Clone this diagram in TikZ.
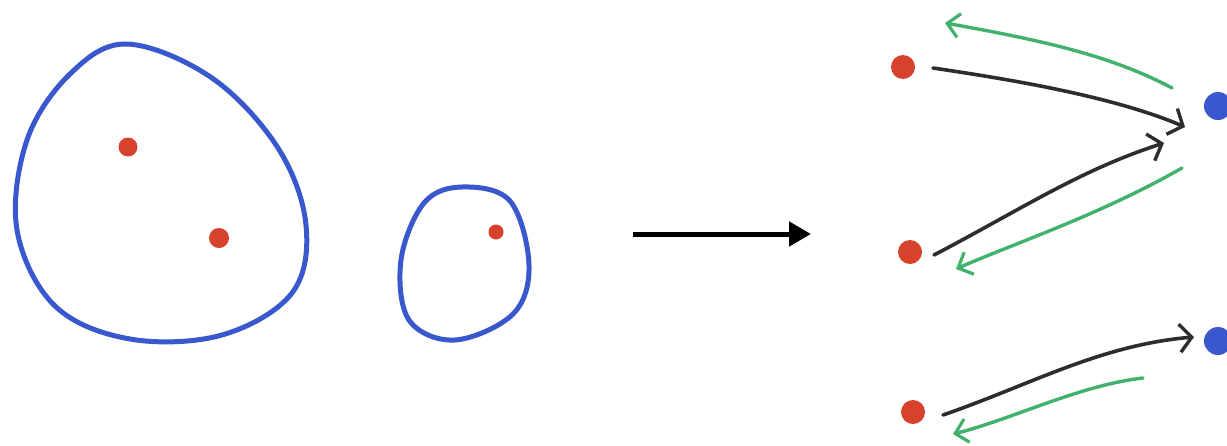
\documentclass[tikz,border=0pt]{standalone}
\usetikzlibrary{arrows.meta,calc}
\definecolor{penblue}{RGB}{58,88,205}
\definecolor{penred}{RGB}{214,66,44}
\definecolor{pengreen}{RGB}{64,178,110}
\definecolor{penblack}{RGB}{45,45,45}
\begin{document}
\begin{tikzpicture}[x=1pt,y=-1pt,
  blob/.style={draw=penblue,line width=5pt,line join=round},
  reddot/.style={circle,fill=penred,inner sep=0pt,minimum size=#1},
  bluedot/.style={circle,fill=penblue,inner sep=0pt,minimum size=#1},
  blackarr/.style={draw=penblack,line width=3.6pt,line cap=round,-{Straight Barb[length=12pt,width=28pt,line width=3.4pt]}},
  greenarr/.style={draw=pengreen,line width=3.4pt,line cap=round,-{Straight Barb[length=12pt,width=24pt,line width=3.2pt]}},
  bigarr/.style={draw=black,line width=5pt,-{Triangle[length=22pt,width=24pt]}}]
\useasboundingbox (0,0) rectangle (1227,445);
% big blob
\draw[blob] plot[smooth cycle,tension=0.6] coordinates{
 (127,44) (212,78) (278,148) (306,225) (292,293) (222,335) (130,339)
 (55,306) (17,230) (27,140) (70,74)};
\node[reddot=19pt] (r1) at (128,147) {};
\node[reddot=20pt] (r2) at (219,238) {};
% small blob
\draw[blob] plot[smooth cycle,tension=0.6] coordinates{
 (462,187) (510,201) (529,265) (513,314) (455,340) (409,320) (401,260) (424,203)};
\node[reddot=15pt] (r3) at (496,232) {};
% main arrow
\coordinate (a1) at (633,234);
\coordinate (a2) at (811,234);
\draw[bigarr] (a1) -- (a2);
% right part dots
\node[reddot=24pt] (p1) at (903,67) {};
\node[reddot=24pt] (p2) at (910,252) {};
\node[reddot=24pt] (p3) at (913,412) {};
\node[bluedot=28pt] (b1) at (1218,106) {};
\node[bluedot=28pt] (b2) at (1218,341) {};
% black arrows
\draw[blackarr] ($(p1)+(30,1)$) .. controls (1000,78) and (1110,95) .. ($(b1)+(-33,21)$);
\draw[blackarr] ($(p2)+(24,3)$) .. controls (1020,210) and (1080,170) .. ($(b1)+(-54,37)$);
\draw[blackarr] ($(p3)+(30,3)$) .. controls (1030,385) and (1100,345) .. ($(b2)+(-24,-4)$);
% green arrows
\draw[greenarr] ($(b1)+(-46,-18)$) .. controls (1110,55) and (1040,40) .. ($(p1)+(42,-44)$);
\draw[greenarr] ($(b1)+(-36,62)$) .. controls (1100,215) and (1010,245) .. ($(p2)+(46,17)$);
\draw[greenarr] ($(b2)+(-75,37)$) .. controls (1080,385) and (1010,420) .. ($(p3)+(40,22)$);
\end{tikzpicture}
\end{document}
